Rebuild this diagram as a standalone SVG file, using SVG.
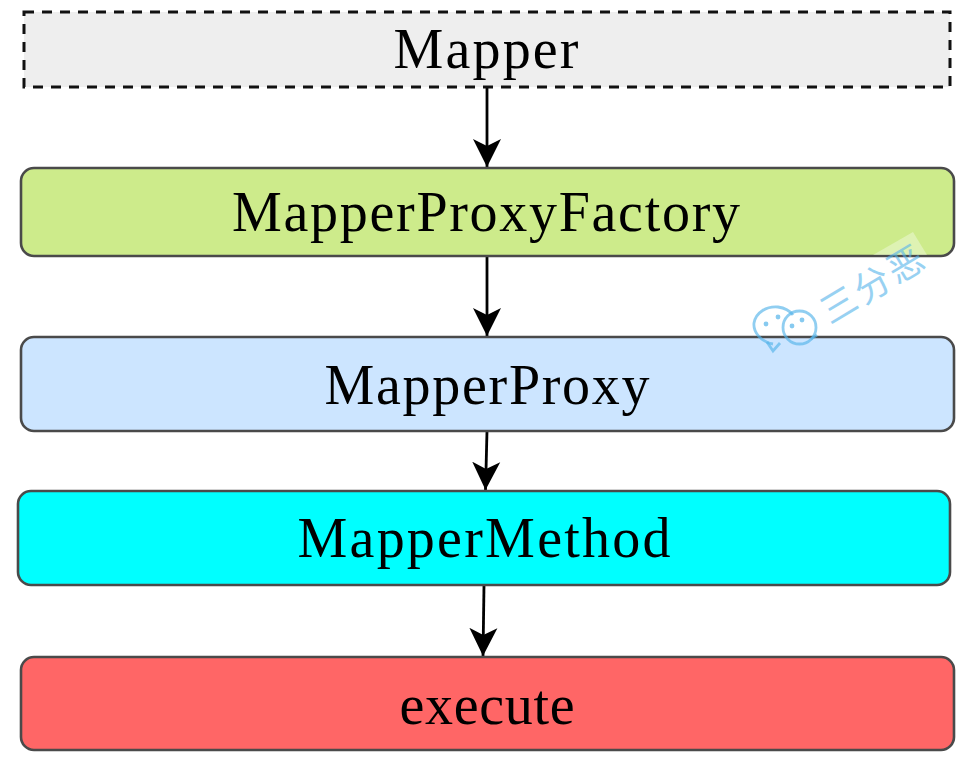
<svg xmlns="http://www.w3.org/2000/svg" width="962" height="758" viewBox="0 0 962 758">
<style>
.box{stroke:#4a4a4a;stroke-width:2.6}
.lbl{font-family:"Liberation Serif","DejaVu Serif",serif;font-size:56px;fill:#000;text-anchor:middle}
.c{stroke:#000;stroke-width:2.8;fill:none;marker-end:url(#a)}
.wm{fill:none;stroke:#55b4ea;stroke-width:2.8;opacity:.65}
.wmt{font-family:"Noto Sans CJK SC",sans-serif;font-size:36px;letter-spacing:3px;fill:#55b4ea;opacity:.6}
</style>
<defs><marker id="a" markerUnits="userSpaceOnUse" markerWidth="30" markerHeight="30" refX="28" refY="14" orient="auto" viewBox="0 0 30 28"><path d="M0 0L7 14L0 28L28 14Z" fill="#000"/></marker></defs>
<rect width="962" height="758" fill="#fff"/>
<g id="connectors">
<path class="c" d="M487 87V167"/>
<path class="c" d="M487 256V336"/>
<path class="c" d="M487 431L485.500 490"/>
<path class="c" d="M484 585L483 656"/>
</g>
<g id="mapper"><rect x="24" y="12" width="926" height="75" fill="#eee" stroke="#111" stroke-width="3" stroke-dasharray="10 8"/><text class="lbl" x="486" y="68" textLength="185">Mapper</text></g>
<g id="factory"><rect class="box" x="21" y="168" width="933" height="88" rx="13" fill="#cdeb8b"/><text class="lbl" x="486" y="231" textLength="508">MapperProxyFactory</text></g>
<g id="proxy"><rect class="box" x="21" y="337" width="933" height="94" rx="13" fill="#cce5ff"/><text class="lbl" x="487" y="404" textLength="325">MapperProxy</text></g>
<g id="method"><rect class="box" x="18" y="491" width="932" height="94" rx="13" fill="#0ff"/><text class="lbl" x="484" y="557" textLength="373">MapperMethod</text></g>
<g id="execute"><rect class="box" x="21" y="657" width="933" height="93" rx="13" fill="#f66"/><text class="lbl" x="487" y="724" textLength="175">execute</text></g>
<g id="watermark">
<path d="M873 255L913 232L927 255Z" fill="#fff" opacity=".35"/>
<path class="wm" d="M773 344C761 342 753 332 754 323C756 312 767 306 778 307C785 308 790 311 793 315"/>
<path class="wm" d="M767 342L773 351L780 343"/>
<circle class="wm" cx="799.500" cy="327.500" r="16.500"/>
<path class="wm" d="M811 339L817 335"/>
<g fill="#55b4ea" opacity=".7"><circle cx="766" cy="324" r="2.400"/><circle cx="778" cy="317" r="2.400"/><circle cx="792" cy="326" r="2.400"/><circle cx="802" cy="320" r="2.400"/></g>
<text class="wmt" transform="translate(830 325) rotate(-31)">三分恶</text>
</g>
</svg>
